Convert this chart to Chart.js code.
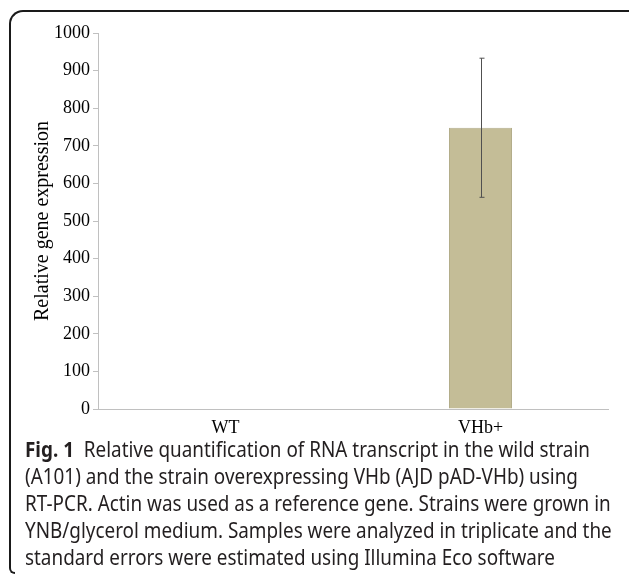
<!DOCTYPE html>
<html>
<head>
<meta charset="utf-8">
<script src="https://cdn.jsdelivr.net/npm/chart.js@4.4.0/dist/chart.umd.min.js"></script>
<style>
body { margin: 0; background: #fff; width: 629px; height: 576px; overflow: hidden; position: relative; }
#frame { position: absolute; left: 9px; top: 10px; width: 640px; height: 550px;
         border-top: 2px solid #1a1a1a; border-left: 2px solid #1a1a1a; border-top-left-radius: 14px; }
#frameFoot { position: absolute; left: 9px; top: 556px; width: 4px; height: 16px;
             border-left: 2px solid #1a1a1a; border-bottom: 2px solid #1a1a1a; border-bottom-left-radius: 8px; }
#chartBox { position: absolute; left: 0; top: 0; width: 629px; height: 445px; }
#caption { position: absolute; left: 25px; top: 436px; font-family: "Noto Sans", sans-serif; font-size: 21px;
           line-height: 27px; color: #231f20; white-space: nowrap; transform-origin: 0 0; }
#caption b { font-weight: 700; }
</style>
</head>
<body>
<div id="frame"></div>
<div id="frameFoot"></div>
<div id="chartBox"><canvas id="geneChart"></canvas></div>
<div id="caption">
  <div id="firstLine"><b>Fig. 1</b>&nbsp; Relative quantification of RNA transcript in the wild strain</div>
  <div>(A101) and the strain overexpressing VHb (AJD pAD-VHb) using</div>
  <div>RT-PCR. Actin was used as a reference gene. Strains were grown in</div>
  <div>YNB/glycerol medium. Samples were analyzed in triplicate and the</div>
  <div>standard errors were estimated using Illumina Eco software</div>
</div>
<script>
// chart data
const categories = ['WT', 'VHb+'];
const expression = [0, 748];
const stdErrors = [0, 185];
const yMin = 0;
const yMax = 1000;
const yStep = 100;

// draws the vertical error whiskers on top of the bars
const errorBars = {
    id: 'errorBars',
    afterDatasetsDraw: function(chart) {
        const ctx = chart.ctx;
        const yScale = chart.scales.y;
        const meta = chart.getDatasetMeta(0);
        ctx.save();
        ctx.strokeStyle = '#505050';
        ctx.lineWidth = 1;
        meta.data.forEach(function(bar, i) {
            if (!stdErrors[i]) return;
            const x = Math.round(bar.x) + 0.5;
            const top = yScale.getPixelForValue(expression[i] + stdErrors[i]);
            const bottom = yScale.getPixelForValue(expression[i] - stdErrors[i]);
            ctx.beginPath();
            ctx.moveTo(x, top);
            ctx.lineTo(x, bottom);
            ctx.moveTo(x - 2, top);
            ctx.lineTo(x + 3, top);
            ctx.moveTo(x - 2, bottom);
            ctx.lineTo(x + 3, bottom);
            ctx.stroke();
        });
        ctx.restore();
    }
};

const serif = 'Liberation Serif';

new Chart(document.getElementById('geneChart'), {
    type: 'bar',
    data: {
        labels: categories,
        datasets: [{
            data: expression,
            backgroundColor: '#c4bd97',
            borderColor: '#b3ad8a',
            borderWidth: 1,
            categoryPercentage: 1,
            barPercentage: 0.247
        }]
    },
    options: {
        responsive: true,
        maintainAspectRatio: false,
        animation: false,
        layout: { padding: { top: 33, right: 21, left: 0, bottom: 0 } },
        plugins: { legend: { display: false }, tooltip: { enabled: false } },
        scales: {
            x: {
                grid: { display: false, drawTicks: false },
                border: { color: '#c0c0c0', width: 1 },
                ticks: { color: '#000', padding: 8, font: { family: serif, size: 18 } },
                afterFit: function(scale) { scale.height = 36; }
            },
            y: {
                min: yMin,
                max: yMax,
                grid: { drawOnChartArea: false, tickLength: 5, color: '#c0c0c0' },
                border: { color: '#c0c0c0', width: 1 },
                ticks: {
                    stepSize: yStep,
                    color: '#000',
                    padding: 3,
                    font: { family: serif, size: 18 },
                    callback: function(v) { return String(v); }
                },
                title: {
                    display: true,
                    text: 'Relative gene expression',
                    color: '#000',
                    font: { family: serif, size: 20 },
                    padding: { top: 31, bottom: 0 }
                },
                afterFit: function(scale) { scale.width = 98; }
            }
        }
    },
    plugins: [errorBars]
});

// squeeze the caption to the width of the original typesetting
const caption = document.getElementById('caption');
const firstLine = document.getElementById('firstLine');
const span = document.createElement('span');
span.innerHTML = firstLine.innerHTML;
firstLine.innerHTML = '';
firstLine.appendChild(span);
const sx = 565 / span.getBoundingClientRect().width;
caption.style.transform = 'scaleX(' + sx + ')';
</script>
</body>
</html>
